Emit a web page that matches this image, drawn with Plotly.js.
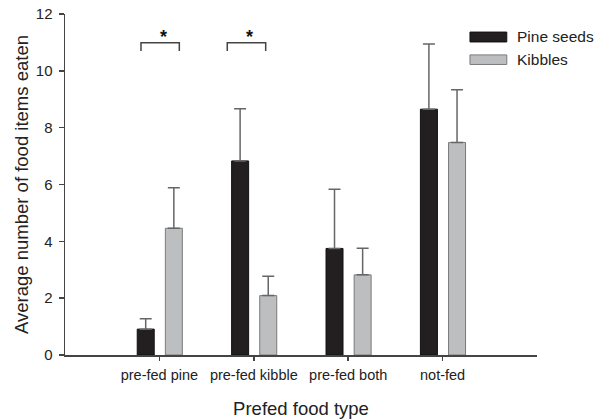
<!DOCTYPE html>
<html>
<head>
<meta charset="utf-8">
<script src="https://cdn.plot.ly/plotly-3.0.1.min.js"></script>
<style>html,body{margin:0;padding:0;background:#fff;}#chart{width:606px;height:419px;}</style>
</head>
<body>
<div id="chart"></div>
<script>
const categories = ["pre-fed pine", "pre-fed kibble", "pre-fed both", "not-fed"];
const seriesNames = ["Pine seeds", "Kibbles"];
const pineSeeds = [0.91, 6.83, 3.75, 8.65];
const pineSeedsErr = [0.37, 1.84, 2.08, 2.29];
const kibbles = [4.46, 2.09, 2.82, 7.48];
const kibblesErr = [1.43, 0.68, 0.94, 1.85];
const yTicks = [0, 2, 4, 6, 8, 10, 12];
const sigMarks = ["*", "*"];

const FONT = "Liberation Sans, Arial, Helvetica, sans-serif";
const TXT = "#222";
const BLACK = "#231f20";
const GREY = "#bdbec0";

const traces = [
  {
    type: "bar", name: seriesNames[0], x: categories, y: pineSeeds,
    width: 0.18, offset: -0.235,
    marker: {color: BLACK, line: {color: "#111", width: 1}},
    error_y: {type: "data", array: pineSeedsErr, arrayminus: pineSeeds.map(() => 0), symmetric: false,
              color: "#666", thickness: 1.5, width: 6},
    showlegend: false
  },
  {
    type: "bar", name: seriesNames[1], x: categories, y: kibbles,
    width: 0.18, offset: 0.063,
    marker: {color: GREY, line: {color: "#7a7a7a", width: 1}},
    error_y: {type: "data", array: kibblesErr, arrayminus: kibbles.map(() => 0), symmetric: false,
              color: "#666", thickness: 1.5, width: 6},
    showlegend: false
  }
];

// significance brackets (positions in category-index / data units)
const brackets = [
  {x0: -0.195, x1: 0.211, xs: 0.04},
  {x0: 0.719, x1: 1.126, xs: 0.952}
];
const shapes = [];
const annotations = [];
brackets.forEach((b, i) => {
  shapes.push({
    type: "path", xref: "x", yref: "y",
    path: `M ${b.x0},10.70 L ${b.x0},10.99 L ${b.x1},10.99 L ${b.x1},10.70`,
    line: {color: "#444", width: 1.5}
  });
  annotations.push({
    xref: "x", yref: "y", x: b.xs, y: 10.76, text: "<b>" + sigMarks[i] + "</b>", showarrow: false,
    yanchor: "bottom", font: {family: FONT, size: 18, color: "#111"}
  });
});

// custom legend
const legendRows = [
  {y0: 0.918, y1: 0.947, ty: 0.933, color: BLACK, line: "#111"},
  {y0: 0.852, y1: 0.880, ty: 0.867, color: GREY, line: "#7a7a7a"}
];
legendRows.forEach((r, i) => {
  shapes.push({type: "rect", xref: "paper", yref: "paper", x0: 0.858, x1: 0.936, y0: r.y0, y1: r.y1,
               fillcolor: r.color, line: {color: r.line, width: 1}});
  annotations.push({xref: "paper", yref: "paper", x: 0.953, y: r.ty, xanchor: "left", yanchor: "middle",
                    text: seriesNames[i], showarrow: false, font: {family: FONT, size: 15.5, color: TXT}});
});

const layout = {
  width: 606, height: 419,
  margin: {l: 65, r: 69, t: 14, b: 64, pad: 0},
  paper_bgcolor: "#fff", plot_bgcolor: "#fff",
  font: {family: FONT, color: TXT},
  barmode: "overlay",
  xaxis: {
    type: "category", range: [-1, 4],
    showline: true, linecolor: "#444", linewidth: 1.5,
    ticks: "outside", ticklen: 4, tickcolor: "#444", tickwidth: 1.5,
    showgrid: false, zeroline: false, ticklabelstandoff: 2,
    tickfont: {family: FONT, size: 14.5, color: TXT},
    title: {text: "Prefed food type", font: {family: FONT, size: 18.5, color: TXT}, standoff: 20}
  },
  yaxis: {
    range: [0, 12], tickvals: yTicks, ticktext: yTicks.map(String),
    showline: true, linecolor: "#444", linewidth: 1.5,
    ticks: "outside", ticklen: 5, tickcolor: "#444", tickwidth: 1.5,
    showgrid: false, zeroline: false, ticklabelstandoff: 3,
    tickfont: {family: FONT, size: 15, color: TXT},
    title: {text: "Average number of food items eaten", font: {family: FONT, size: 18.5, color: TXT}, standoff: 2}
  },
  shapes: shapes,
  annotations: annotations,
  showlegend: false
};

Plotly.newPlot("chart", traces, layout, {displayModeBar: false, staticPlot: true});
</script>
</body>
</html>
